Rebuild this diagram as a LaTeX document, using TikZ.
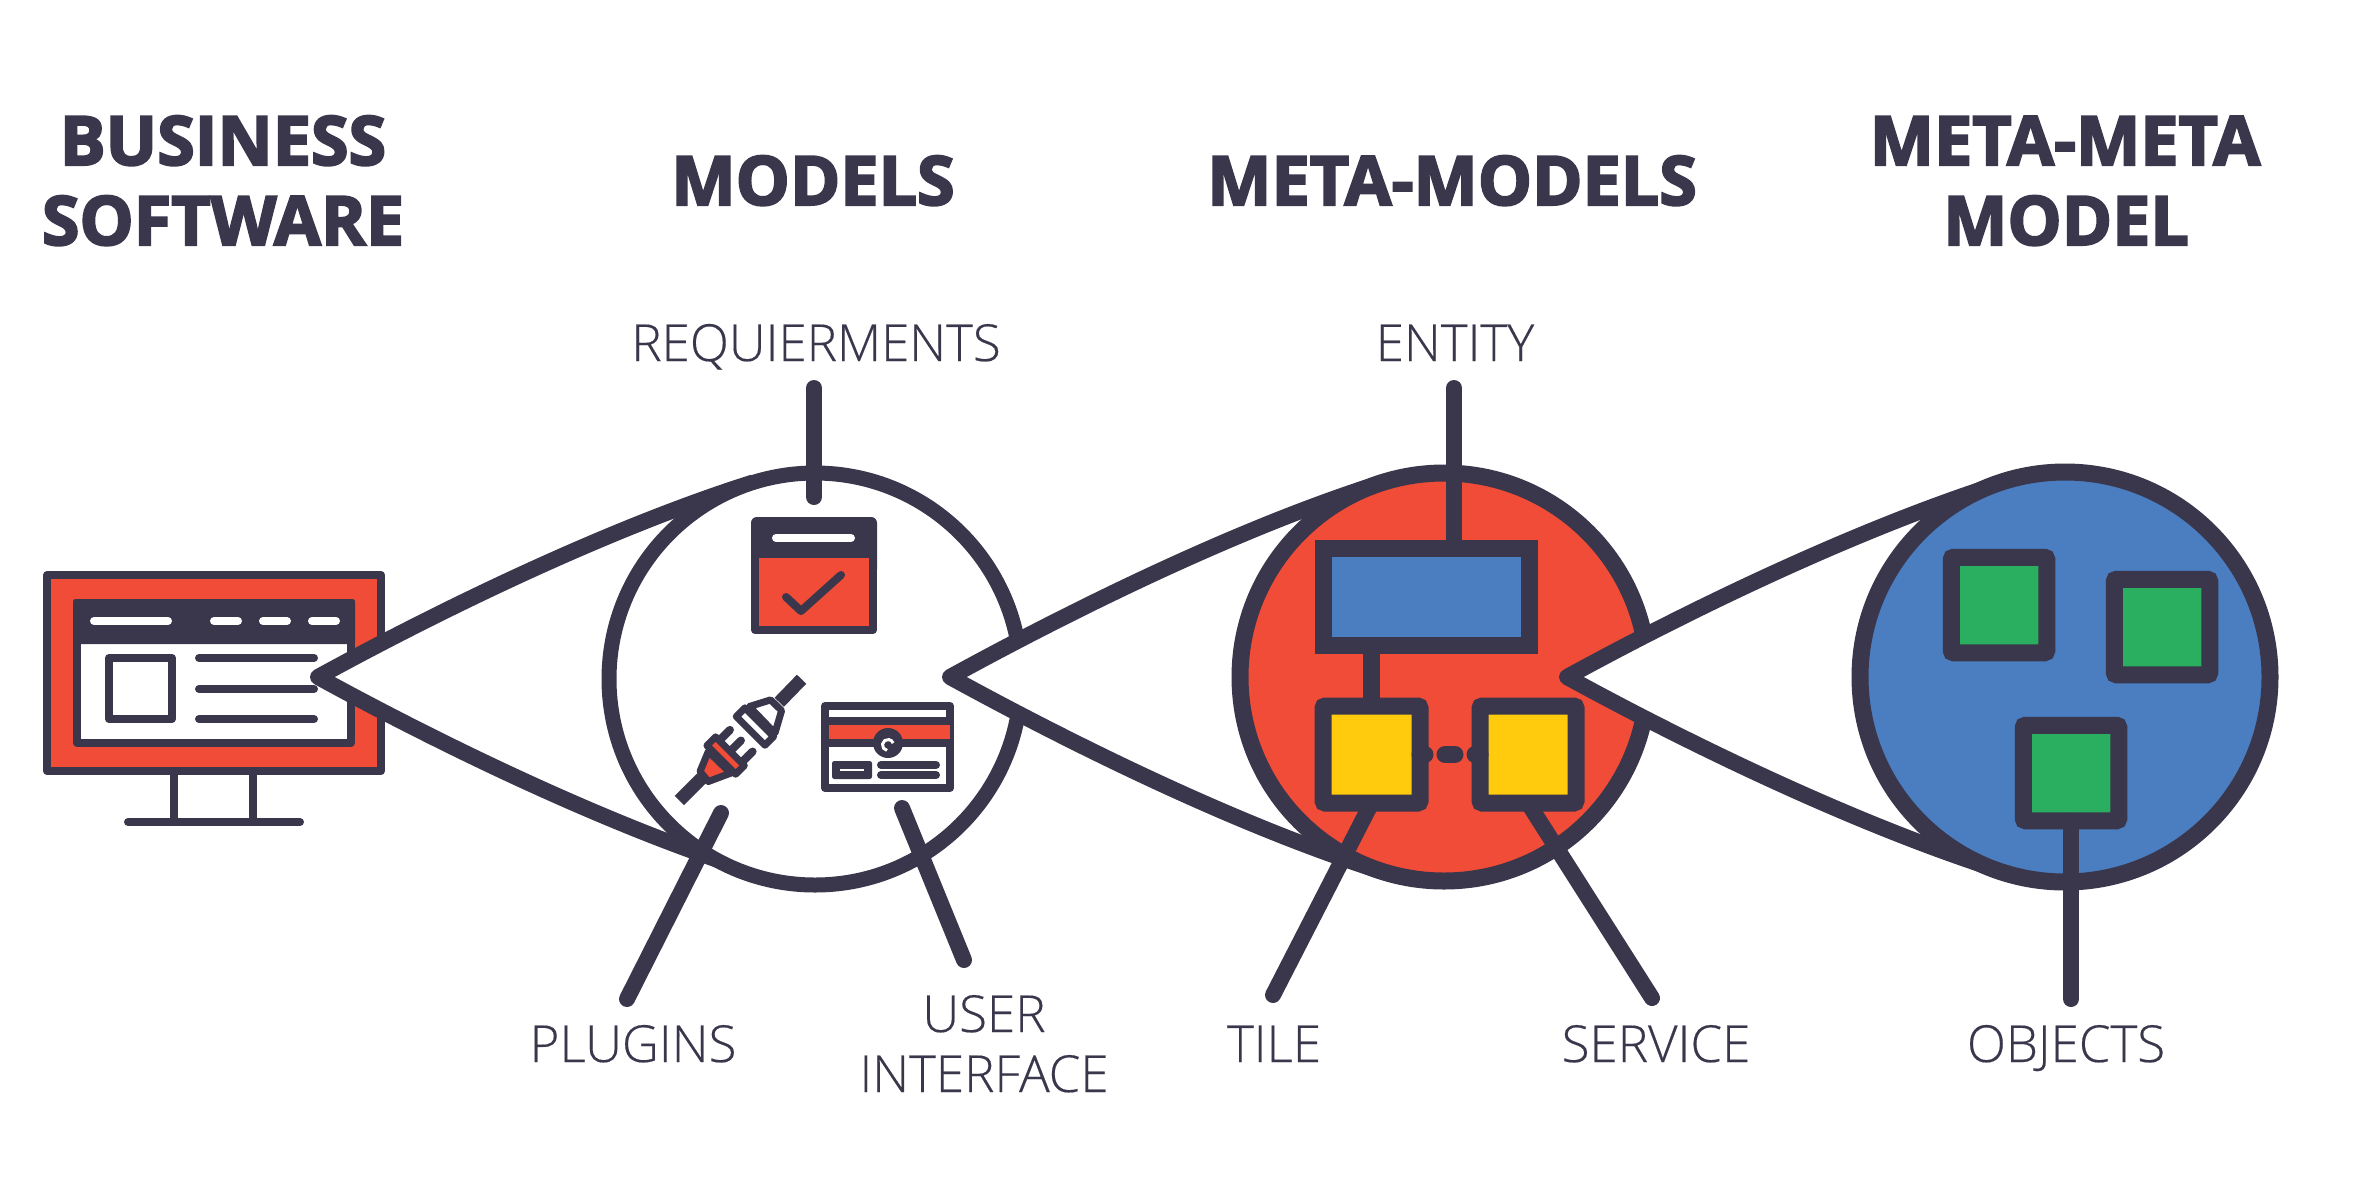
\documentclass[tikz,border=0pt]{standalone}
\usepackage{fontspec}
\setmainfont{Open Sans}
\newfontfamily\headfont[RawFeature={embolden=3}]{Open Sans Bold}
\newfontfamily\labelfont[RawFeature={embolden=0.3}]{Open Sans Light}
\definecolor{ink}{HTML}{3A364B}
\definecolor{tomato}{HTML}{F04C38}
\definecolor{steel}{HTML}{4A7EC0}
\definecolor{leaf}{HTML}{2AAF60}
\definecolor{amber}{HTML}{FFCB0C}
\tikzset{
  px/.style={line width=#1*0.8535pt},
  inkline/.style={draw=ink,px=#1,line cap=round,line join=round},
  spoke/.style={inkline=16},
  wedge/.style={draw=ink,px=16,line join=round,fill=white},
  lens/.style={circle,draw=ink,inner sep=0pt,outer sep=0pt,minimum size=#1*0.03cm},
  frame/.style={rectangle,draw=ink,px=17,inner sep=0pt,outer sep=0pt,rounded corners=2pt},
  head/.style={anchor=base,text=ink,font=\headfont\fontsize{58.2}{68}\selectfont},
  tag/.style={anchor=base,text=ink,font=\labelfont\fontsize{43.6}{51}\selectfont},
  thinbar/.style={draw=ink,px=8,line join=round},
}
% white wedge running from its tip to the top and bottom of a lens at (#2,677)
\newcommand{\wedgeshape}[2]{%
  \draw[wedge] (#2-62,482.5) .. controls (#2-197,525) and (#1+135,603) .. (#1,677)
    .. controls (#1+135,751) and (#2-197,829) .. (#2-62,871.5);
}
\begin{document}
\begin{tikzpicture}[x=0.03cm,y=-0.03cm]
\useasboundingbox (0,0) rectangle (2363,1192);

% headings
\node[head] (h1a) at (223,165) {BUSINESS};
\node[head] (h1b) at (223,245) {SOFTWARE};
\node[head] (h2) at (813,205) {MODELS};
\node[head] (h3) at (1452,205) {META-MODELS};
\node[head] (h4a) at (2065,165) {META-META};
\node[head] (h4b) at (2066,245) {MODEL};

% desktop monitor
\draw[inkline=8] (174,771) -- (174,822);
\draw[inkline=8] (253,771) -- (253,822);
\draw[inkline=8] (128,822) -- (300,822);
\draw[inkline=8,fill=tomato] (47,575) rectangle (381,771);
\draw[inkline=8,fill=white] (77,603) rectangle (351,743);
\fill[ink,rounded corners=2pt] (73,599) rectangle (355,644);
\draw[inkline=8,draw=white] (94,621) -- (168,621);
\draw[inkline=8,draw=white] (214,621) -- (238,621);
\draw[inkline=8,draw=white] (263,621) -- (287,621);
\draw[inkline=8,draw=white] (312,621) -- (336,621);
\draw[inkline=8] (109,658) rectangle (172,719);
\draw[inkline=8] (199,658) -- (314,658);
\draw[inkline=8] (199,689) -- (314,689);
\draw[inkline=8] (199,719) -- (314,719);

% first lens
\wedgeshape{318}{815}
\node[lens=412,px=15,fill=white] (c1) at (815,679) {};

% checklist window
\fill[ink,rounded corners=5pt] (751,517) rectangle (877,575);
\draw[inkline=8,fill=tomato] (755,554) rectangle (873,630);
\fill[ink] (755,545) rectangle (873,558);
\draw[inkline=8,draw=white] (776,538) -- (851,538);
\draw[inkline=8] (786,597) -- (801,611) -- (841,575);

% form window
\draw[inkline=8,fill=white] (825,706) rectangle (950,788);
\fill[tomato] (829,725) rectangle (950,739);
\draw[inkline=8,line cap=butt] (825,721) -- (950,721);
\draw[inkline=8,line cap=butt] (825,743) -- (950,743);
\fill[ink] (888,743) circle (15);
\draw[draw=white,px=3] (887,750.4) arc (100:340:5.5);
\fill[ink,rounded corners=2pt] (832,761) rectangle (872,779);
\draw[draw=white,px=1.2] (840,770) -- (864,770);
\draw[inkline=8] (881,765) -- (936,765);
\draw[inkline=8] (881,775) -- (936,775);

% plug and socket, laid out on a finer grid
\begin{scope}[shift={(640,480)},x=0.01cm,y=-0.01cm]
  \draw[draw=ink,px=13,line cap=butt] (485,598) -- (418,667);
  \draw[thinbar,px=7,fill=white] (328,680) -- (392,660) -- (425,692) -- (405,760) -- cycle;
  \draw[thinbar,px=7,fill=white] (315,684) -- (289,710) -- (375,796) -- (401,770) -- cycle;
  \draw[inkline=8] (270,750) -- (242,778);
  \draw[inkline=8] (303,782) -- (275,810);
  \draw[inkline=8] (338,815) -- (310,843);
  \draw[draw=ink,px=13,line cap=butt] (185,895) -- (118,962);
  \draw[thinbar,px=7,fill=tomato] (180,875) -- (205,815) -- (272,880) -- (205,905) -- cycle;
  \draw[thinbar,px=7,fill=tomato] (227,771) -- (201,797) -- (287,883) -- (313,857) -- cycle;
\end{scope}

% first lens connectors
\coordinate (reqTop) at (814,388);
\coordinate (reqEnd) at (814,497);
\coordinate (plugIn) at (721,813);
\coordinate (plugOut) at (627,999);
\coordinate (uiIn) at (902,808);
\coordinate (uiOut) at (964,960);
\draw[spoke] (reqTop) -- (reqEnd);
\draw[spoke] (plugIn) -- (plugOut);
\draw[spoke] (uiIn) -- (uiOut);

% second lens
\wedgeshape{950}{1444}
\node[lens=408,px=17,fill=tomato] (c2) at (1444,677) {};
\node[frame,fill=steel,rounded corners=0pt,minimum width=206*0.03cm,minimum height=97*0.03cm] (ent) at (1426,596.5) {};
\node[frame,fill=amber,minimum width=97*0.03cm,minimum height=97*0.03cm] (yl) at (1371.5,754.5) {};
\node[frame,fill=amber,minimum width=96*0.03cm,minimum height=97*0.03cm] (yr) at (1528,754.5) {};
\coordinate (entTop) at (1454,388);
\coordinate (tileOut) at (1273,995);
\coordinate (servOut) at (1652,998);
\draw[spoke] (entTop) -- (ent.north -| entTop);
\draw[draw=ink,px=17] (ent.south -| yl.north) -- (yl.north);
\draw[draw=ink,px=17,line cap=round,dash pattern=on 8.535pt off 17.07pt,dash phase=4.27pt] (yl.east) -- (yr.west);
\draw[spoke] (yl.south) -- (tileOut);
\draw[spoke] (yr.south) -- (servOut);

% third lens
\wedgeshape{1567}{2065}
\node[lens=410,px=17,fill=steel] (c3) at (2065,677) {};
\node[frame,fill=leaf,minimum size=95.5*0.03cm] (o1) at (1999,605) {};
\node[frame,fill=leaf,minimum size=95.5*0.03cm] (o2) at (2162,627) {};
\node[frame,fill=leaf,minimum size=95.5*0.03cm] (o3) at (2071,773) {};
\coordinate (objOut) at (2071,999);
\draw[spoke] (o3.south) -- (objOut);

% part labels
\node[tag] (t1) at (816,361) {REQUIERMENTS};
\node[tag] (t2) at (633,1062) {PLUGINS};
\node[tag] (t3a) at (984,1032) {USER};
\node[tag] (t3b) at (984,1092) {INTERFACE};
\node[tag] (t4) at (1455,361) {ENTITY};
\node[tag] (t5) at (1274,1062) {TILE};
\node[tag] (t6) at (1656,1062) {SERVICE};
\node[tag] (t7) at (2066,1062) {OBJECTS};
\end{tikzpicture}
\end{document}
